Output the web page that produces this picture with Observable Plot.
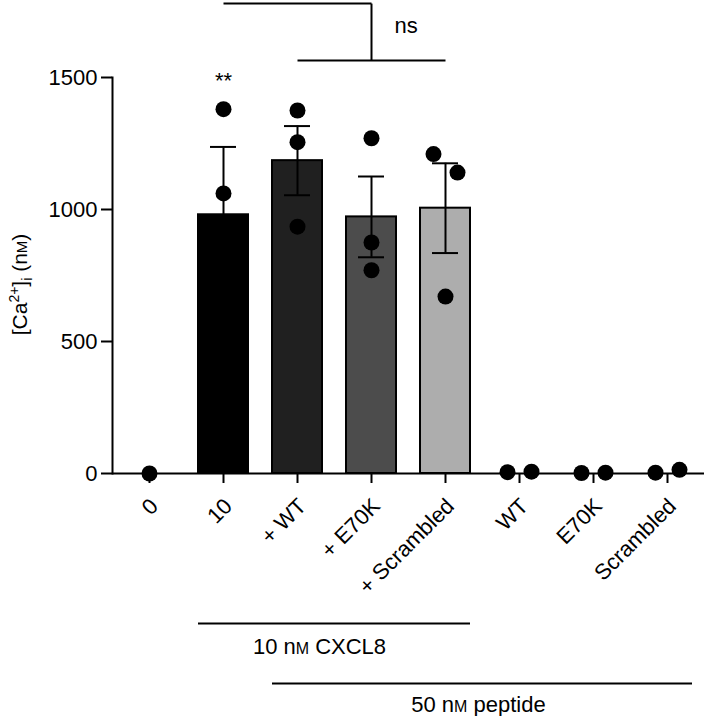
<!DOCTYPE html>
<html><head><meta charset="utf-8">
<script src="https://cdn.jsdelivr.net/npm/d3@7"></script>
<script src="https://cdn.jsdelivr.net/npm/@observablehq/plot@0.6"></script>
<style>html,body{margin:0;padding:0;background:#fff}</style>
</head><body><div id="chart"></div>
<script>
// ---- data ----
const categories = ["0", "10", "+ WT", "+ E70K", "+ Scrambled", "WT", "E70K", "Scrambled"];
const yTicks = [0, 500, 1000, 1500];

const barCategories = ["10", "+ WT", "+ E70K", "+ Scrambled"];
const barMeans = [980, 1185, 972, 1005];
const barSEM = [257, 131, 153, 170];

const pointCategories = ["0", "10", "10", "10", "+ WT", "+ WT", "+ WT", "+ E70K", "+ E70K", "+ E70K",
  "+ Scrambled", "+ Scrambled", "+ Scrambled", "WT", "WT", "E70K", "E70K", "Scrambled", "Scrambled"];
const pointValues = [0, 1380, 1061, 497, 1375, 1255, 935, 1270, 875, 770, 1210, 1140, 670, 5, 7, 2, 3, 3, 14];

// annotations (data units)
const sigText = "**", sigCategory = "10", sigY = 1460;
const bracketUpperFrom = "10", bracketUpperTo = "+ E70K", bracketUpperY = 1780;
const bracketLowerFrom = "+ WT", bracketLowerTo = "+ Scrambled", bracketLowerY = 1564;
const nsText = "ns", nsY = 1667;
const groupLabels = ["10 nM CXCL8", "50 nM peptide"];
const groupFrom = ["10", "+ WT"];
const groupTo = ["+ Scrambled", "Scrambled"];
const groupLineY = [-568, -795];
const groupTextY = [-682, -905];
const yLabel = "[Ca2+]i (nM)";
const yLabelY = 716;

// ---- styles ----
const barColors = ["#000000", "#202020", "#4c4c4c", "#adadad"];
const font = "'Liberation Sans', Arial, Helvetica, sans-serif";
const fs = 22;
const dotR = 8, dotSpacing = 24, clusterGap = 91;

// ---- build tables ----
const bars = barCategories.map((c, i) => ({cat: c, mean: barMeans[i], sem: barSEM[i]}));
const points = pointCategories.map((c, i) => ({cat: c, v: pointValues[i]}));
for (const arr of d3.group(points, d => d.cat).values()) {
  const clusters = [];
  for (const p of arr) {
    const cl = clusters.find(c => c.some(q => Math.abs(q.v - p.v) < clusterGap));
    if (cl) cl.push(p); else clusters.push([p]);
  }
  for (const cl of clusters) cl.forEach((p, k) => p.slot = k - (cl.length - 1) / 2);
}
const slots = [...new Set(points.map(p => p.slot))];

const W = 709, H = 716, ML = 112, MR = 5, MT = 77, MB = 243;

const chart = Plot.plot({
  width: W, height: H,
  marginLeft: ML, marginRight: MR, marginTop: MT, marginBottom: MB,
  style: {fontFamily: font, fontSize: fs + "px", color: "black", background: "white", overflow: "visible"},
  x: {domain: categories, paddingInner: 0.32, paddingOuter: 0.16},
  y: {domain: [0, 1500]},
  color: {domain: barCategories, range: barColors},
  marks: [
    Plot.barY(bars, {x: "cat", y: "mean", fill: "cat", stroke: "black", strokeWidth: 2}),
    Plot.ruleX(bars, {x: "cat", y1: d => d.mean - d.sem, y2: d => d.mean + d.sem, strokeWidth: 2}),
    Plot.tickY(bars, {x: "cat", y: d => d.mean + d.sem, insetLeft: 12, insetRight: 12, strokeWidth: 2}),
    Plot.tickY(bars, {x: "cat", y: d => d.mean - d.sem, insetLeft: 12, insetRight: 12, strokeWidth: 2}),
    Plot.ruleY([0], {strokeWidth: 2}),
    Plot.frame({anchor: "left", strokeWidth: 2}),
    Plot.axisY({ticks: yTicks, tickFormat: d => String(d), tickSize: 11, tickPadding: 4, strokeWidth: 2, label: null, fontSize: fs}),
    Plot.axisX({fill: "none", tickSize: 10, strokeWidth: 2, label: null}),
    Plot.axisX({stroke: "none", tickSize: 10, tickPadding: 19, tickRotate: -45, dx: 5, fontSize: fs, label: null}),
    ...slots.map(s => Plot.dot(points.filter(p => p.slot === s), {x: "cat", y: "v", r: dotR, fill: "black", dx: s * dotSpacing})),
    // significance
    Plot.text([sigText], {x: () => sigCategory, y: () => sigY, text: d => d, lineAnchor: "bottom", fontSize: fs}),
    Plot.link([0], {x1: () => bracketUpperFrom, x2: () => bracketUpperTo, y1: () => bracketUpperY, y2: () => bracketUpperY, strokeWidth: 2}),
    Plot.link([0], {x1: () => bracketUpperTo, x2: () => bracketUpperTo, y1: () => bracketUpperY, y2: () => bracketLowerY, strokeWidth: 2}),
    Plot.link([0], {x1: () => bracketLowerFrom, x2: () => bracketLowerTo, y1: () => bracketLowerY, y2: () => bracketLowerY, strokeWidth: 2}),
    Plot.text([nsText], {x: () => bracketUpperTo, y: () => nsY, text: d => d, textAnchor: "start", lineAnchor: "bottom", dx: 23, fontSize: fs}),
    // group lines
    Plot.ruleY(groupLabels, {x1: (d, i) => groupFrom[i], x2: (d, i) => groupTo[i], y: (d, i) => groupLineY[i], strokeWidth: 2}),
    Plot.text([groupLabels[0]], {x: () => "+ WT", y: () => groupTextY[0], text: d => d, lineAnchor: "bottom", dx: 22, fontSize: fs}),
    Plot.text([groupLabels[1]], {x: () => "+ Scrambled", y: () => groupTextY[1], text: d => d, lineAnchor: "bottom", dx: 33, fontSize: fs}),
    // y label
    Plot.text([yLabel], {y: () => yLabelY, frameAnchor: "left", textAnchor: "middle", text: d => d, rotate: -90, lineAnchor: "bottom", dx: 26 - ML, fontSize: fs})
  ]
});
document.getElementById("chart").appendChild(chart);

// rich text: superscript / subscript / small capital M (no dy, so centring is kept)
const NS = "http://www.w3.org/2000/svg";
function richen(plain, parts) {
  for (const t of chart.querySelectorAll("text")) {
    if (t.textContent !== plain) continue;
    while (t.firstChild) t.removeChild(t.firstChild);
    for (const p of parts) {
      const ts = document.createElementNS(NS, "tspan");
      ts.textContent = p[0];
      if (p[1]) ts.setAttribute("font-size", p[1]);
      if (p[2]) ts.setAttribute("baseline-shift", p[2]);
      t.appendChild(ts);
    }
  }
}
richen(yLabel, [["[Ca", "21px"], ["2+", "14px", "8px"], ["]", "21px"], ["i", "14px", "-5px"], [" (n", "21px"], ["M", "15px"], [")", "21px"]]);
richen(groupLabels[0], [["10 n", fs + "px"], ["M", "16px"], [" CXCL8", fs + "px"]]);
richen(groupLabels[1], [["50 n", fs + "px"], ["M", "16px"], [" peptide", fs + "px"]]);
</script></body></html>
